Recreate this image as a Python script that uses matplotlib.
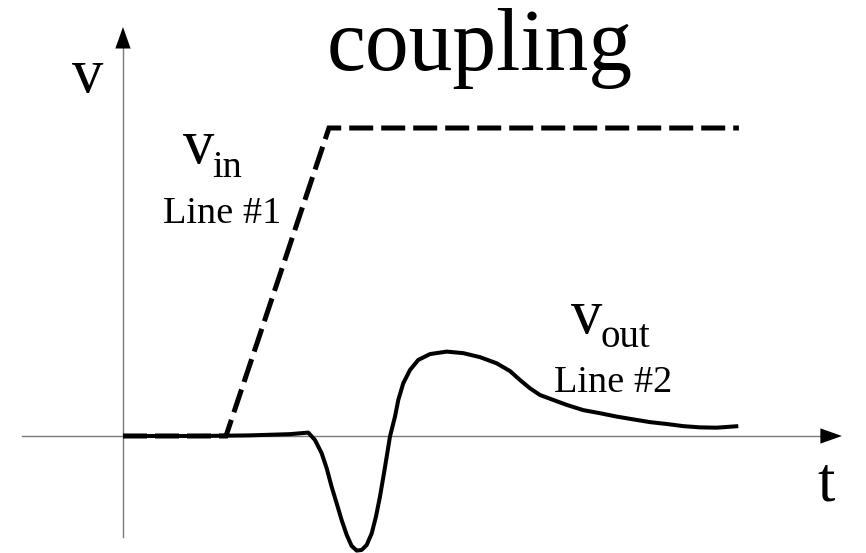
import matplotlib
matplotlib.use("Agg")
import matplotlib.pyplot as plt

plt.rcParams['font.family'] = ['Liberation Serif', 'DejaVu Serif']

# Data (t in time units, v normalised so that v_in high level = 1)
vin_t = [0.0, 1.0, 2.0, 5.98]
vin_v = [0.0, 0.0, 1.0, 1.0]

vout_t = [0.000, 0.748, 1.233, 1.621, 1.799, 1.864, 1.929, 1.978, 2.026, 2.075,
          2.123, 2.172, 2.220, 2.269, 2.317, 2.366, 2.415, 2.456, 2.495, 2.534,
          2.566, 2.592, 2.641, 2.673, 2.721, 2.786, 2.867, 2.981, 3.143, 3.304,
          3.466, 3.628, 3.757, 3.854, 3.951, 4.049, 4.178, 4.308, 4.469, 4.631,
          4.793, 4.954, 5.117, 5.279, 5.440, 5.602, 5.764, 5.974]
vout_v = [0.000, 0.000, 0.002, 0.006, 0.011, -0.013, -0.056, -0.105, -0.165, -0.219,
          -0.273, -0.321, -0.357, -0.372, -0.370, -0.354, -0.316, -0.262, -0.197, -0.121,
          -0.056, -0.002, 0.063, 0.117, 0.171, 0.214, 0.247, 0.266, 0.274, 0.269,
          0.256, 0.236, 0.211, 0.182, 0.155, 0.133, 0.117, 0.101, 0.084, 0.074,
          0.063, 0.054, 0.045, 0.039, 0.032, 0.028, 0.027, 0.032]

title = "coupling"
x_label = "t"
y_label = "v"
vin_label = ("v", "in", "Line #1")
vout_label = ("v", "out", "Line #2")

# axis extents
t_axis = (-0.98, 6.98)
v_axis = (-0.328, 1.328)

fig = plt.figure(figsize=(8.66, 5.53), dpi=100)
ax = fig.add_axes([0, 0, 1, 1])
ax.set_xlim(-1.194, 7.214)
ax.set_ylim(-0.3799, 1.4156)
ax.axis('off')

axis_col = '#7a7a7a'
# axes lines
ax.plot([t_axis[0], t_axis[1] - 0.1], [0, 0], color=axis_col, lw=1.0, zorder=1)
ax.plot([0, 0], [v_axis[0], v_axis[1] - 0.03], color=axis_col, lw=1.0, zorder=1)
# arrow heads
ap = dict(arrowstyle='-|>,head_length=1.55,head_width=0.55', mutation_scale=10,
          color='black', lw=0, shrinkA=0, shrinkB=0)
ax.annotate('', xy=(t_axis[1], 0), xytext=(t_axis[1] - 0.3, 0), arrowprops=ap)
ax.annotate('', xy=(0, v_axis[1]), xytext=(0, v_axis[1] - 0.1), arrowprops=ap)

# curves
ax.plot(vin_t, vin_v, color='black', lw=3.6, ls=(0, (4.8, 1.6)),
        solid_joinstyle='miter', dash_joinstyle='miter', zorder=3)
ax.plot(vout_t, vout_v, color='black', lw=2.9, solid_joinstyle='round',
        solid_capstyle='butt', zorder=3)

# texts
ax.text(3.466, 1.188, title, fontsize=63, ha='center', va='baseline')
ax.text(-0.345, 1.117, y_label, fontsize=45, ha='center', va='baseline')
ax.text(6.83, -0.208, x_label, fontsize=45, ha='center', va='baseline')

ax.text(0.738, 0.886, vin_label[0], fontsize=45, ha='center', va='baseline')
ax.text(0.870, 0.841, vin_label[1], fontsize=27.5, ha='left', va='baseline')
ax.text(0.966, 0.692, vin_label[2], fontsize=27.5, ha='center', va='baseline')

ax.text(4.50, 0.334, vout_label[0], fontsize=45, ha='center', va='baseline')
ax.text(4.640, 0.289, vout_label[1], fontsize=28, ha='left', va='baseline')
ax.text(4.757, 0.143, vout_label[2], fontsize=27.5, ha='center', va='baseline')

fig.savefig('out.png', dpi=100)
